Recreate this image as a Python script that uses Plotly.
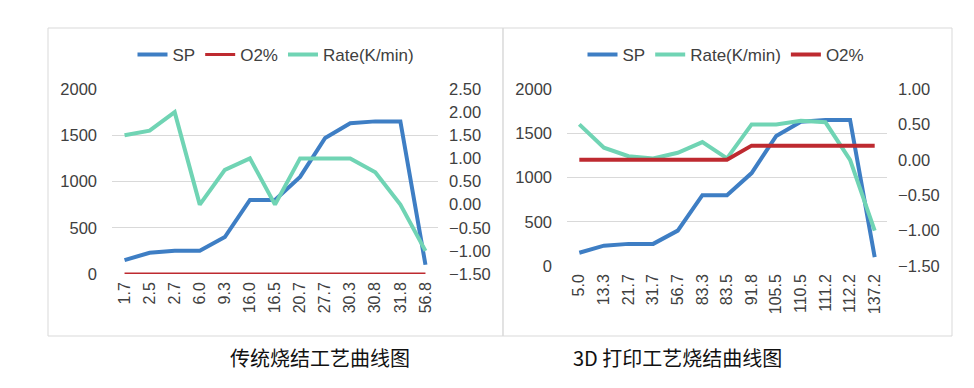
import plotly.graph_objects as go

# ---- data ----
cats_left = ["1.7", "2.5", "2.7", "6.0", "9.3", "16.0", "16.5", "20.7", "27.7", "30.3", "30.8", "31.8", "56.8"]
sp_left = [150, 230, 250, 250, 400, 800, 800, 1050, 1470, 1630, 1650, 1650, 100]
o2_left = [0, 0, 0, 0, 0, 0, 0, 0, 0, 0, 0, 0, 0]
rate_left = [1.5, 1.6, 2.0, 0.0, 0.75, 1.0, 0.0, 1.0, 1.0, 1.0, 0.7, 0.0, -1.0]

cats_right = ["5.0", "13.3", "21.7", "31.7", "56.7", "83.3", "83.5", "91.8", "105.5", "110.5", "111.2", "112.2", "137.2"]
sp_right = [150, 230, 250, 250, 400, 800, 800, 1050, 1470, 1630, 1650, 1650, 100]
rate_right = [0.5, 0.17, 0.05, 0.02, 0.1, 0.25, 0.02, 0.5, 0.5, 0.55, 0.53, 0.0, -1.0]
o2_right = [0, 0, 0, 0, 0, 0, 0, 0.2, 0.2, 0.2, 0.2, 0.2, 0.2]

left_ticks = [0, 500, 1000, 1500, 2000]
right_ticks_left = [-1.5, -1.0, -0.5, 0.0, 0.5, 1.0, 1.5, 2.0, 2.5]
right_ticks_right = [-1.5, -1.0, -0.5, 0.0, 0.5, 1.0]

title_left = "传统烧结工艺曲线图"
title_right = "3D 打印工艺烧结曲线图"

BLUE = "#3e7ec4"
RED = "#be2a30"
GREEN = "#70d4b4"
TXT = "#404040"
GRID = "#d9d9d9"
FONT = "Liberation Sans, Arial, sans-serif"

OFF = 8  # page body margin
W, H = 974 - 2 * OFF, 388 - 2 * OFF


def px(x):
    return (x - OFF) / W


def py(y):
    return (H - (y - OFF)) / H


fig = go.Figure()

# Left chart
fig.add_trace(go.Scatter(x=cats_left, y=sp_left, name="SP", mode="lines",
                         line=dict(color=BLUE, width=4), xaxis="x", yaxis="y", legend="legend"))
fig.add_trace(go.Scatter(x=cats_left, y=o2_left, name="O2%", mode="lines",
                         line=dict(color=RED, width=3), xaxis="x", yaxis="y", legend="legend"))
fig.add_trace(go.Scatter(x=cats_left, y=rate_left, name="Rate(K/min)", mode="lines",
                         line=dict(color=GREEN, width=4), xaxis="x", yaxis="y2", legend="legend"))

# Right chart
fig.add_trace(go.Scatter(x=cats_right, y=sp_right, name="SP", mode="lines",
                         line=dict(color=BLUE, width=4), xaxis="x2", yaxis="y3", legend="legend2"))
fig.add_trace(go.Scatter(x=cats_right, y=rate_right, name="Rate(K/min)", mode="lines",
                         line=dict(color=GREEN, width=4), xaxis="x2", yaxis="y4", legend="legend2"))
fig.add_trace(go.Scatter(x=cats_right, y=o2_right, name="O2%", mode="lines",
                         line=dict(color=RED, width=4), xaxis="x2", yaxis="y4", legend="legend2"))

tickfont = dict(family=FONT, size=16.5, color=TXT)
xtickfont = dict(family=FONT, size=16, color=TXT)

ldom_x = [px(112), px(438)]
ldom_y = [py(274), py(89)]
rdom_x = [px(567), px(887)]
rdom_y = [py(266), py(89)]

common_x = dict(type="category", tickangle=-90, tickfont=xtickfont, showgrid=False,
                showline=False, zeroline=False, ticks="", ticklabelstandoff=4, automargin=False)
common_yl = dict(tickfont=tickfont, showgrid=True, gridcolor=GRID, gridwidth=1,
                 zeroline=False, showline=False, ticks="", ticklabelstandoff=14, automargin=False)
common_yr = dict(side="right", tickformat=".2f", tickfont=tickfont, showgrid=False,
                 zeroline=False, showline=False, ticks="", ticklabelstandoff=10, automargin=False)

legfont = dict(family=FONT, size=17, color=TXT)

fig.update_layout(
    width=W, height=H,
    margin=dict(l=0, r=0, t=0, b=0),
    paper_bgcolor="white", plot_bgcolor="white",
    font=dict(family=FONT, color=TXT),
    xaxis=dict(domain=ldom_x, anchor="y", range=[-0.5, len(cats_left) - 0.5], **common_x),
    yaxis=dict(domain=ldom_y, anchor="x", range=[0, 2000], tickvals=left_ticks, **common_yl),
    yaxis2=dict(overlaying="y", anchor="x", range=[-1.5, 2.5], tickvals=right_ticks_left, **common_yr),
    xaxis2=dict(domain=rdom_x, anchor="y3", range=[-0.5, len(cats_right) - 0.5], **common_x),
    yaxis3=dict(domain=rdom_y, anchor="x2", range=[0, 2000], tickvals=left_ticks, **common_yl),
    yaxis4=dict(overlaying="y3", anchor="x2", range=[-1.5, 1.0], tickvals=right_ticks_right, **common_yr),
    legend=dict(orientation="h", x=px(276), y=py(55), xanchor="center", yanchor="middle",
                font=legfont, bgcolor="rgba(0,0,0,0)",
                itemwidth=30, tracegroupgap=0, traceorder="normal"),
    legend2=dict(orientation="h", x=px(726), y=py(55), xanchor="center", yanchor="middle",
                 font=legfont, bgcolor="rgba(0,0,0,0)",
                 itemwidth=30, tracegroupgap=0, traceorder="normal"),
    showlegend=True,
)

# Chart frames
fig.add_shape(type="rect", xref="paper", yref="paper",
              x0=px(48), x1=px(503), y0=py(336), y1=py(28),
              line=dict(color=GRID, width=1), fillcolor="rgba(0,0,0,0)", layer="below")
fig.add_shape(type="rect", xref="paper", yref="paper",
              x0=px(503), x1=px(952), y0=py(336), y1=py(28),
              line=dict(color=GRID, width=1), fillcolor="rgba(0,0,0,0)", layer="below")

# Captions
fig.add_annotation(text=title_left, xref="paper", yref="paper", x=px(320), y=py(357),
                   showarrow=False, xanchor="center", yanchor="middle",
                   font=dict(family="Noto Sans CJK SC", size=20, color="#111111"))
fig.add_annotation(text=title_right, xref="paper", yref="paper", x=px(677), y=py(357),
                   showarrow=False, xanchor="center", yanchor="middle",
                   font=dict(family="Noto Sans CJK SC", size=20, color="#111111"))

fig.write_html("out.html")
